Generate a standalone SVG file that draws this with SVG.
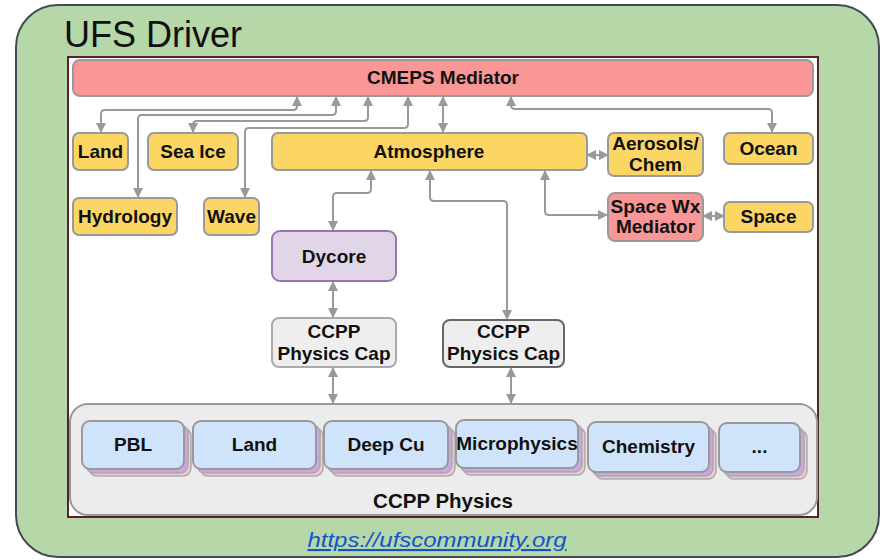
<svg xmlns="http://www.w3.org/2000/svg" width="884" height="560" viewBox="0 0 884 560">
<defs>
<marker id="ah" viewBox="0 0 10 10" refX="9" refY="5" markerWidth="5" markerHeight="5" orient="auto-start-reverse" markerUnits="strokeWidth">
<path d="M0,0 L10,5 L0,10 z" fill="#999"/>
</marker>
<style>
.t{font-family:"Liberation Sans",Arial,sans-serif;font-weight:bold;font-size:19px;fill:#111;text-anchor:middle}
.y{fill:#fcd665;stroke:#999;stroke-width:2}
.r{fill:#f99696;stroke:#999;stroke-width:2}
.cap{fill:#eeeeee;stroke-width:2}
.pf{fill:#cfe4fb;stroke:#999;stroke-width:2}
.pm{fill:#c9a7e3;stroke:#aaa;stroke-width:1.5}
.pp{fill:#f3c7d6;stroke:#aaa;stroke-width:1.5}
.c{fill:none;stroke:#999;stroke-width:2;marker-start:url(#ah);marker-end:url(#ah)}
</style>
</defs>
<rect x="16" y="5" width="863" height="552" rx="42" fill="#b6d7a8" stroke="#434a54" stroke-width="2"/>
<text x="64" y="47" font-family="Liberation Sans,Arial,sans-serif" font-size="36" fill="#111">UFS Driver</text>
<rect x="68" y="57" width="750" height="460" fill="#fff" stroke="#5b1f2e" stroke-width="2"/>

<g id="cmeps"><rect class="r" x="73" y="60" width="740" height="36" rx="7"/><text class="t" x="443" y="84">CMEPS Mediator</text></g>
<g id="land"><rect class="y" x="73" y="133" width="55" height="37" rx="6"/><text class="t" x="100.5" y="158">Land</text></g>
<g id="seaice"><rect class="y" x="148" y="133" width="90" height="37" rx="6"/><text class="t" x="193" y="158">Sea Ice</text></g>
<g id="atmosphere"><rect class="y" x="272" y="133" width="315" height="37" rx="6"/><text class="t" x="429" y="158">Atmosphere</text></g>
<g id="aerosols"><rect class="y" x="608" y="133" width="95" height="43" rx="6"/><text class="t" x="655.5" y="150">Aerosols/</text><text class="t" x="655.5" y="171">Chem</text></g>
<g id="ocean"><rect class="y" x="724" y="133" width="89" height="31" rx="6"/><text class="t" x="768.5" y="155">Ocean</text></g>
<g id="hydrology"><rect class="y" x="73" y="198" width="104" height="37" rx="6"/><text class="t" x="125" y="223">Hydrology</text></g>
<g id="wave"><rect class="y" x="204" y="198" width="55" height="37" rx="6"/><text class="t" x="231.5" y="223">Wave</text></g>
<g id="spacewx"><rect class="r" x="608" y="193" width="95" height="48" rx="7"/><text class="t" x="655.5" y="213">Space Wx</text><text class="t" x="655.5" y="233">Mediator</text></g>
<g id="space"><rect class="y" x="724" y="202" width="89" height="30" rx="6"/><text class="t" x="768.5" y="223">Space</text></g>
<g id="dycore"><rect x="272" y="231" width="124" height="50" rx="8" fill="#e1d5e8" stroke="#9b74b3" stroke-width="2"/><text class="t" x="334" y="263">Dycore</text></g>
<g id="cap1"><rect class="cap" x="272" y="318" width="124" height="49" rx="7" stroke="#aaa"/><text class="t" x="334" y="338">CCPP</text><text class="t" x="334" y="360">Physics Cap</text></g>
<g id="cap2"><rect class="cap" x="443" y="320" width="121" height="47" rx="7" stroke="#666"/><text class="t" x="503.5" y="338">CCPP</text><text class="t" x="503.5" y="360">Physics Cap</text></g>

<g id="ccpp-physics">
<rect x="70" y="404" width="747" height="111" rx="18" fill="#ececec" stroke="#999" stroke-width="2"/>
<text class="t" x="443" y="508" style="font-size:20.5px">CCPP Physics</text>
</g>
<g id="pbl"><rect class="pp" x="89" y="428" width="102" height="48" rx="8"/><rect class="pm" x="86" y="425" width="102" height="48" rx="8"/><rect class="pf" x="82" y="421" width="102" height="48" rx="8"/><text class="t" x="133" y="451">PBL</text></g>
<g id="landphys"><rect class="pp" x="200" y="428" width="123" height="48" rx="8"/><rect class="pm" x="197" y="425" width="123" height="48" rx="8"/><rect class="pf" x="193" y="421" width="123" height="48" rx="8"/><text class="t" x="254.5" y="451">Land</text></g>
<g id="deepcu"><rect class="pp" x="331" y="428" width="124" height="48" rx="8"/><rect class="pm" x="328" y="425" width="124" height="48" rx="8"/><rect class="pf" x="324" y="421" width="124" height="48" rx="8"/><text class="t" x="386" y="451">Deep Cu</text></g>
<g id="micro"><rect class="pp" x="463" y="427" width="122" height="48" rx="8"/><rect class="pm" x="460" y="424" width="122" height="48" rx="8"/><rect class="pf" x="456" y="420" width="122" height="48" rx="8"/><text class="t" x="517" y="450">Microphysics</text></g>
<g id="chemistry"><rect class="pp" x="595" y="429" width="121" height="50" rx="8"/><rect class="pm" x="592" y="426" width="121" height="50" rx="8"/><rect class="pf" x="588" y="422" width="121" height="50" rx="8"/><text class="t" x="648.5" y="453">Chemistry</text></g>
<g id="more"><rect class="pp" x="726" y="430" width="81" height="49" rx="8"/><rect class="pm" x="723" y="427" width="81" height="49" rx="8"/><rect class="pf" x="719" y="423" width="81" height="49" rx="8"/><text class="t" x="759.5" y="453">...</text></g>

<g id="connectors">
<path class="c" d="M297,97 V106 Q297,110 293,110 H105 Q101,110 101,114 V132"/>
<path class="c" d="M336,97 V111 Q336,115 332,115 H142 Q138,115 138,119 V197"/>
<path class="c" d="M368,97 V117 Q368,121 364,121 H197 Q193,121 193,125 V132"/>
<path class="c" d="M408,97 V124 Q408,128 404,128 H249 Q245,128 245,132 V197"/>
<path class="c" d="M443,97 V132"/>
<path class="c" d="M511,97 V105 Q511,109 515,109 H768 Q772,109 772,113 V132"/>
<path class="c" d="M587,155 H608"/>
<path class="c" d="M545,171 V211 Q545,215 549,215 H607"/>
<path class="c" d="M703,216 H724"/>
<path class="c" d="M371,171 V189 Q371,193 367,193 H337 Q333,193 333,197 V230"/>
<path class="c" d="M430,171 V197 Q430,201 434,201 H503 Q507,201 507,205 V319"/>
<path class="c" d="M333,282 V317"/>
<path class="c" d="M333,368 V403"/>
<path class="c" d="M511,368 V403"/>
</g>

<text x="437" y="547" font-family="Liberation Sans,Arial,sans-serif" font-style="italic" font-size="21" fill="#1155cc" text-anchor="middle" text-decoration="underline" textLength="259" lengthAdjust="spacingAndGlyphs">https://ufscommunity.org</text>
</svg>
